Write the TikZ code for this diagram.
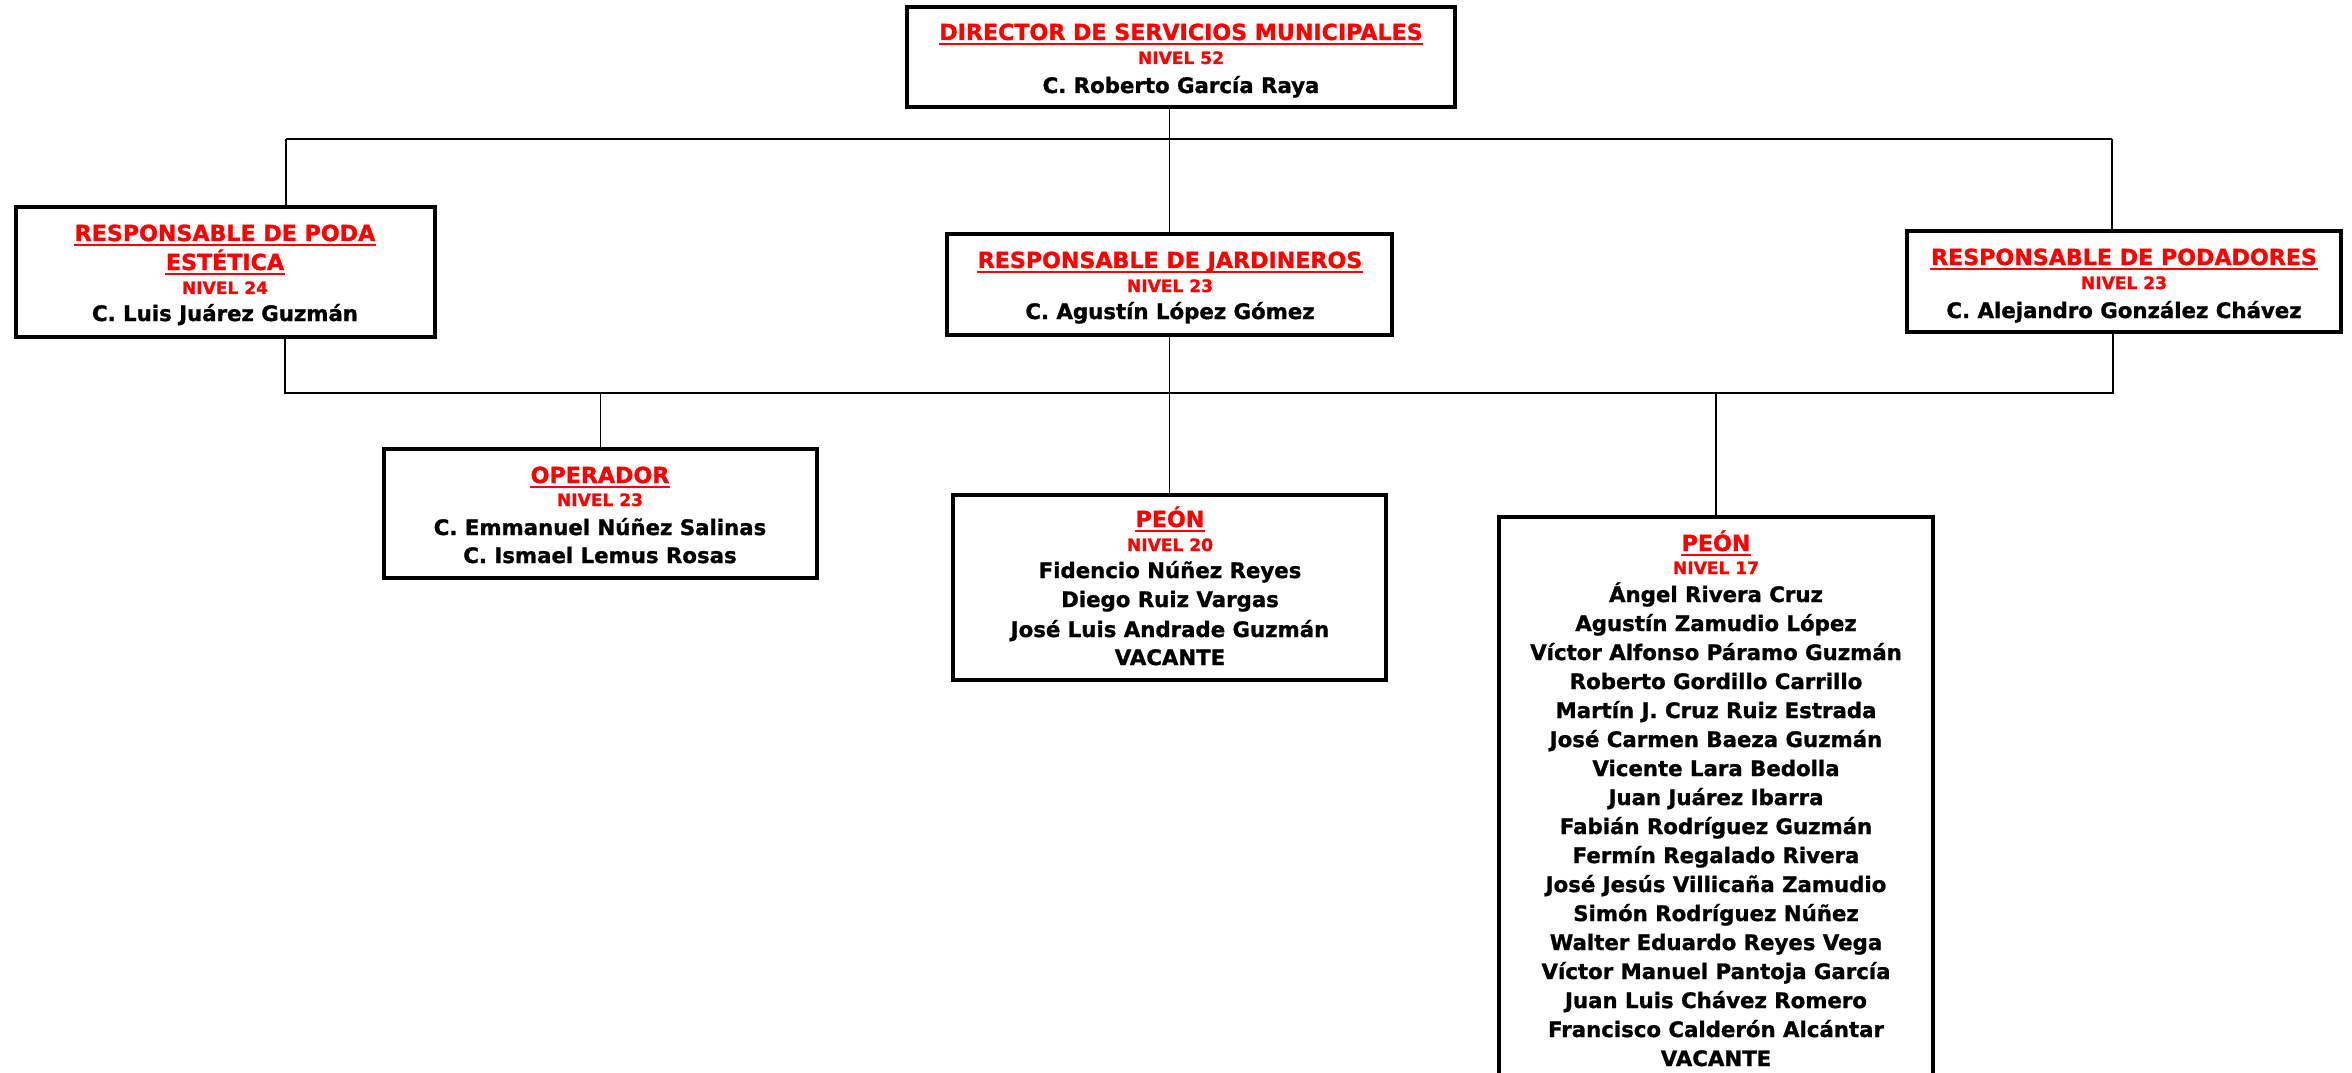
\documentclass[tikz,border=0pt]{standalone}
\usepackage{fontspec}
\setmainfont{DejaVu Sans}[BoldFeatures={FakeBold=1.2}]
\usetikzlibrary{fit}
\definecolor{tred}{RGB}{255,0,0}
\tikzset{
  orgbox/.style={draw=black, line width=1.1pt, inner sep=0pt, rectangle},
  link/.style={draw=black, line width=0.55pt},
  ulst/.style={draw=tred, line width=0.6pt},
  ttl/.style={anchor=base, inner sep=0pt, text=tred, font=\bfseries\fontsize{6.3}{7}\selectfont},
  niv/.style={anchor=base, inner sep=0pt, text=tred, font=\bfseries\fontsize{4.85}{5.5}\selectfont},
  nm/.style={anchor=base, inner sep=0pt, text=black, font=\bfseries\fontsize{6.05}{7}\selectfont},
}
\newcommand\ulnode[1]{\draw[ulst] ([yshift=-1.1pt]#1.base west) -- ([yshift=-1.1pt]#1.base east);}
\begin{document}
\begin{tikzpicture}[x=0.01cm, y=-0.01cm]
\clip (0,0) rectangle (2352,1073);
\fill[white] (0,0) rectangle (2352,1073);

% boxes
\node[orgbox, fit={(907,7) (1455,107)}] (dir) {};
\node[orgbox, fit={(16,207) (435,337)}] (poda) {};
\node[orgbox, fit={(947,234) (1392,335)}] (jard) {};
\node[orgbox, fit={(1907,231) (2341,332)}] (podad) {};
\node[orgbox, fit={(384,449) (817,578)}] (oper) {};
\node[orgbox, fit={(953,495) (1386,680)}] (peonA) {};
\node[orgbox, fit={(1499,517) (1933,1120)}] (peonB) {};

% texts
\node[ttl] (dirT) at (1181,40) {DIRECTOR DE SERVICIOS MUNICIPALES};
\node[niv] (dirN) at (1181,64) {NIVEL 52};
\node[nm]  (dirP) at (1181,93) {C. Roberto García Raya};

\node[ttl] (podaT1) at (225,241) {RESPONSABLE DE PODA};
\node[ttl] (podaT2) at (225,270) {ESTÉTICA};
\node[niv] (podaN) at (225,294) {NIVEL 24};
\node[nm]  (podaP) at (225,321) {C. Luis Juárez Guzmán};

\node[ttl] (jardT) at (1170,268) {RESPONSABLE DE JARDINEROS};
\node[niv] (jardN) at (1170,292) {NIVEL 23};
\node[nm]  (jardP) at (1170,319) {C. Agustín López Gómez};

\node[ttl] (podadT) at (2124,265) {RESPONSABLE DE PODADORES};
\node[niv] (podadN) at (2124,289) {NIVEL 23};
\node[nm]  (podadP) at (2124,318) {C. Alejandro González Chávez};

\node[ttl] (operT) at (600,483) {OPERADOR};
\node[niv] (operN) at (600,506) {NIVEL 23};
\node[nm]  (operP1) at (600,535) {C. Emmanuel Núñez Salinas};
\node[nm]  (operP2) at (600,563) {C. Ismael Lemus Rosas};

\node[ttl] (peonAT) at (1170,527) {PEÓN};
\node[niv] (peonAN) at (1170,551) {NIVEL 20};
\node[nm]  (peonAP1) at (1170,578) {Fidencio Núñez Reyes};
\node[nm]  (peonAP2) at (1170,607) {Diego Ruiz Vargas};
\node[nm]  (peonAP3) at (1170,637) {José Luis Andrade Guzmán};
\node[nm]  (peonAP4) at (1170,665) {VACANTE};

\node[ttl] (peonBT) at (1716,551) {PEÓN};
\node[niv] (peonBN) at (1716,574) {NIVEL 17};
\foreach \n [count=\i from 0] in {Ángel Rivera Cruz, Agustín Zamudio López, Víctor Alfonso Páramo Guzmán, Roberto Gordillo Carrillo, Martín J. Cruz Ruiz Estrada, José Carmen Baeza Guzmán, Vicente Lara Bedolla, Juan Juárez Ibarra, Fabián Rodríguez Guzmán, Fermín Regalado Rivera, José Jesús Villicaña Zamudio, Simón Rodríguez Núñez, Walter Eduardo Reyes Vega, Víctor Manuel Pantoja García, Juan Luis Chávez Romero, Francisco Calderón Alcántar, VACANTE}
  \node[nm] (peonBP\i) at (1716,{602+29*\i}) {\n};

% underlines
\ulnode{dirT}
\ulnode{podaT1}
\ulnode{podaT2}
\ulnode{jardT}
\ulnode{podadT}
\ulnode{operT}
\ulnode{peonAT}
\ulnode{peonBT}

% connectors
\coordinate (busL) at (286,139);
\coordinate (busR) at (2112,139);
\coordinate (lowL) at (285,393);
\coordinate (lowR) at (2113,393);
\draw[link] (jard.north |- dir.south) -- (jard.north);
\draw[link] (busL) -- (busR);
\draw[link] (busL) -- (busL |- poda.north);
\draw[link] (busR) -- (busR |- podad.north);
\draw[link] (lowL |- poda.south) -- (lowL) -- (lowR) -- (lowR |- podad.south);
\draw[link] (jard.south) -- (peonA.north);
\draw[link] (oper.north) -- (oper.north |- lowL);
\draw[link] (peonB.north) -- (peonB.north |- lowL);
\end{tikzpicture}
\end{document}
